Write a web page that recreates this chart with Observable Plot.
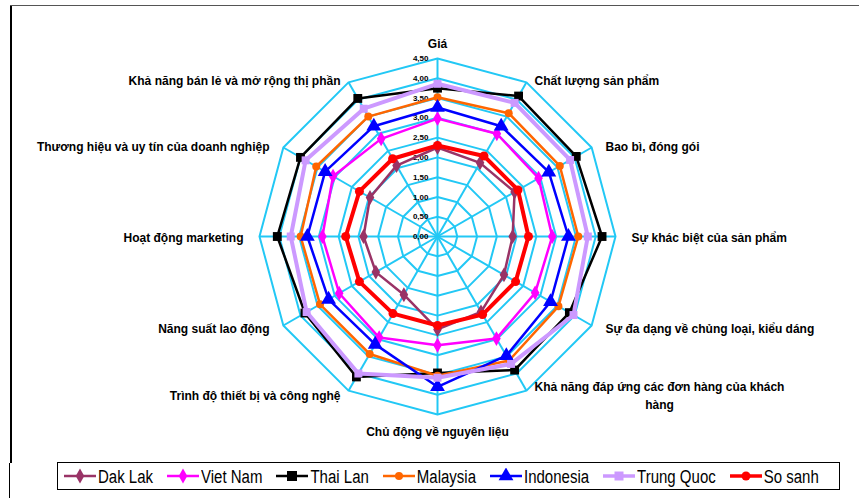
<!DOCTYPE html>
<html><head><meta charset="utf-8">
<script src="https://cdn.jsdelivr.net/npm/d3@7"></script>
<script src="https://cdn.jsdelivr.net/npm/@observablehq/plot@0.6"></script>
<style>
body{margin:0;background:#fff;}
#wrap{position:relative;width:859px;height:498px;overflow:hidden;background:#fff;}
#chart svg{display:block;}
#legend{position:absolute;left:57px;top:462px;width:783px;height:28px;border:1px solid #000;box-sizing:border-box;display:flex;align-items:center;padding-left:5px;gap:13px;font-family:"Liberation Sans",Arial,sans-serif;font-size:15px;color:#000;white-space:nowrap;}
#legend .item{display:flex;align-items:center;}
#legend svg{display:block;margin-right:1px;}
#legend span{display:inline-block;transform:scaleY(1.2);}
.frameL{position:absolute;left:10px;top:5px;width:2px;height:458px;background:#000;}
.frameL2{position:absolute;left:9px;top:463px;width:1px;height:35px;background:#000;}
.frameT{position:absolute;left:10px;top:5px;width:849px;height:1px;background:#555;}
</style></head>
<body>
<div id="wrap">
  <div id="chart"></div>
  <div class="frameL"></div><div class="frameL2"></div><div class="frameT"></div>
  <div id="legend"></div>
</div>
<script>
// ---------- DATA ----------
const categories = [
  "Giá",
  "Chất lượng sản phẩm",
  "Bao bì, đóng gói",
  "Sự khác biệt của sản phẩm",
  "Sự đa dạng về chủng loại, kiểu dáng",
  "Khả năng đáp ứng các đơn hàng của khách\nhàng",
  "Chủ động về nguyên liệu",
  "Trình độ thiết bị và công nghệ",
  "Năng suất lao động",
  "Hoạt động marketing",
  "Thương hiệu và uy tín của doanh nghiệp",
  "Khả năng bán lẻ và mở rộng thị phần"
];
const seriesNames = ["Dak Lak", "Viet Nam", "Thai Lan", "Malaysia", "Indonesia", "Trung Quoc", "So sanh"];
const dakLak    = [2.25, 2.15, 2.25, 1.90, 1.94, 2.20, 2.35, 1.70, 1.80, 1.87, 1.97, 2.07];
const vietNam   = [2.98, 3.00, 2.95, 2.90, 2.85, 2.98, 2.75, 2.95, 2.87, 2.91, 3.05, 2.85];
const thaiLan   = [3.75, 4.10, 4.05, 4.16, 3.85, 3.90, 3.45, 4.10, 3.87, 4.05, 4.00, 4.03];
const malaysia  = [3.52, 3.60, 3.57, 3.56, 3.53, 3.62, 3.52, 3.43, 3.43, 3.46, 3.54, 3.50];
const indonesia = [3.26, 3.22, 3.25, 3.31, 3.30, 3.48, 3.80, 3.15, 3.18, 3.29, 3.28, 3.22];
const trungQuoc = [3.86, 3.90, 3.87, 3.80, 3.97, 3.72, 3.57, 4.00, 3.82, 3.71, 3.85, 3.73];
const soSanh    = [2.30, 2.35, 2.35, 2.30, 2.28, 2.28, 2.25, 2.25, 2.28, 2.32, 2.28, 2.27];
const tickValues = [0, 0.5, 1, 1.5, 2, 2.5, 3, 3.5, 4, 4.5];

// ---------- STYLE ----------
const seriesValues = [dakLak, vietNam, thaiLan, malaysia, indonesia, trungQuoc, soSanh];
const seriesColors = ["#993366", "#ff00ff", "#000000", "#ff6600", "#0000ff", "#cc99ff", "#ff0000"];
const seriesSymbols = ["diamond", "diamond", "square", "circle", "triangle", "square", "circle"];
const seriesWidths = [2.5, 2.5, 2.5, 2.5, 2.5, 4, 4];
const seriesR = [4.5, 4.5, 5, 4, 5.5, 4.5, 4.5];
const gridColor = "#22c8f5";

// ---------- GEOMETRY ----------
const W = 859, H = 460, cx = 437, cy = 236, R = 178;
const maxV = tickValues[tickValues.length - 1];
const k = R / maxV; // px per unit
const n = categories.length;
const ang = i => i * 2 * Math.PI / n;
const px = (v, i) => v * Math.sin(ang(i));
const py = (v, i) => v * Math.cos(ang(i));

// grid rings
const ringRows = [];
tickValues.slice(1).forEach(t => {
  for (let i = 0; i < n; i++) ringRows.push({ring: t, x: px(t, i), y: py(t, i)});
});
const spokes = categories.map((c, i) => ({x2: px(maxV, i), y2: py(maxV, i)}));

// series rows
const rows = [];
seriesNames.forEach((s, si) => {
  seriesValues[si].forEach((v, i) => rows.push({series: s, si, i, value: v, x: px(v, i), y: py(v, i)}));
});

// category labels
const labelFont = "bold 12px 'Liberation Sans', Arial, sans-serif";
const ctx = document.createElement("canvas").getContext("2d");
ctx.font = labelFont;
const rL = 194 / k;
const labelRows = categories.map((c, i) => {
  const s = Math.sin(ang(i)), co = Math.cos(ang(i));
  const w = Math.max(...c.split("\n").map(l => ctx.measureText(l).width)) / k;
  let x = rL * s, y = rL * co;
  if (Math.abs(s) > 0.1 && Math.abs(co) > 0.1) y -= co * 12 / k;
  if (s > 0.1) x += w / 2; else if (s < -0.1) x -= w / 2;
  return {text: c, x, y};
});

const marks = [
  Plot.line(ringRows, {x: "x", y: "y", z: "ring", curve: "linear-closed", stroke: gridColor, strokeWidth: 2}),
  Plot.link(spokes, {x1: d => 0, y1: d => 0, x2: "x2", y2: "y2", stroke: gridColor, strokeWidth: 2}),
  Plot.text(tickValues, {x: d => 0, y: d => d, text: d => d.toFixed(2).replace(".", ","), textAnchor: "end", dx: -9, fontSize: 8, fontWeight: "bold", fill: "#000", fontFamily: "'Liberation Sans', Arial, sans-serif"})
];
seriesNames.forEach((s, si) => {
  const data = rows.filter(d => d.si === si);
  marks.push(Plot.line(data, {x: "x", y: "y", curve: "linear-closed", stroke: seriesColors[si], strokeWidth: seriesWidths[si], strokeLinejoin: "round"}));
  marks.push(Plot.dot(data, {x: "x", y: "y", symbol: () => seriesSymbols[si], fill: seriesColors[si], stroke: "none", r: seriesR[si]}));
});
marks.push(Plot.text(labelRows, {x: "x", y: "y", text: "text", textAnchor: "middle", lineAnchor: "middle", fontSize: 12, fontWeight: "bold", fill: "#000", fontFamily: "'Liberation Sans', Arial, sans-serif", lineHeight: 1.5}));

const chart = Plot.plot({
  width: W, height: H,
  marginTop: 0, marginRight: 0, marginBottom: 0, marginLeft: 0,
  x: {domain: [-cx / k, (W - cx) / k], range: [0, W], axis: null},
  y: {domain: [-(H - cy) / k, cy / k], range: [H, 0], axis: null},
  symbol: {type: "identity"},
  style: {background: "transparent", overflow: "visible"},
  marks
});
document.getElementById("chart").appendChild(chart);

// ---------- LEGEND ----------
const symTypes = {diamond: d3.symbolDiamond, square: d3.symbolSquare, circle: d3.symbolCircle, triangle: d3.symbolTriangle};
const legend = document.getElementById("legend");
seriesNames.forEach((s, si) => {
  const item = document.createElement("div");
  item.className = "item";
  const r = seriesR[si];
  const size = seriesSymbols[si] === "square" ? (2 * r) * (2 * r) : Math.PI * r * r;
  const path = d3.symbol().type(symTypes[seriesSymbols[si]]).size(size)();
  item.innerHTML = `<svg width="34" height="16"><line x1="1" y1="8" x2="33" y2="8" stroke="${seriesColors[si]}" stroke-width="${seriesWidths[si] > 3 ? 3.5 : 2.5}"/><path d="${path}" transform="translate(17,8)" fill="${seriesColors[si]}"/></svg><span>${s}</span>`;
  legend.appendChild(item);
});
</script>
</body></html>
